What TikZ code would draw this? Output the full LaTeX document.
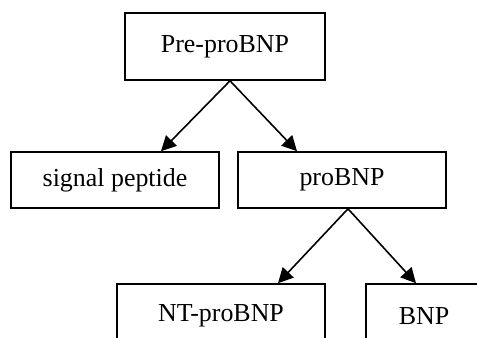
\documentclass[tikz,border=0pt]{standalone}
\usepackage{fontspec}
\setmainfont{Liberation Serif}
\usetikzlibrary{arrows.meta,positioning}

\begin{document}
\begin{tikzpicture}[x=1bp,y=-1bp,>={Triangle[length=15bp,width=15bp]},line width=1.6bp,
        box/.style={draw,rectangle,inner sep=0pt,minimum height=56bp,minimum width=208bp,
                    font=\fontsize{26}{30}\selectfont}]

                \clip (0,0) rectangle (477,337);

                \node[box,minimum height=67bp,minimum width=200bp] (pre) at (225,46.5) {Pre-proBNP};

                \node[box] (sig) at (115,180) {signal peptide};

                \node[box] (pro) at (342,180) {proBNP};

                \node[box,minimum height=64bp] (nt) at (221,316) {NT-proBNP};

                \node[box,minimum height=64bp,minimum width=116bp] (bnp) at (424,316) {BNP};

                

                \draw[->] ([xshift=5bp]pre.south) -- ([xshift=46bp]sig.north);

                \draw[->] ([xshift=5bp]pre.south) -- ([xshift=-45bp]pro.north);

                \draw[->] ([xshift=6bp]pro.south) -- ([xshift=57bp]nt.north);

                \draw[->] ([xshift=6bp]pro.south) -- ([xshift=-8bp]bnp.north);

            \end{tikzpicture}
\end{document}
